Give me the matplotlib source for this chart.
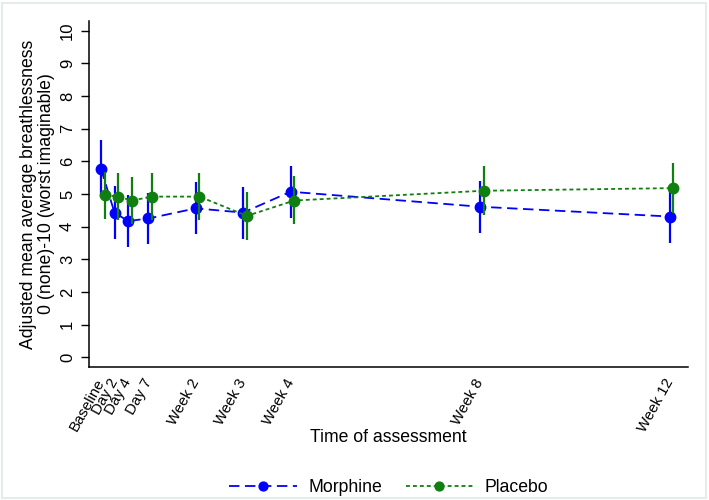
import matplotlib
matplotlib.use("Agg")
import matplotlib.pyplot as plt
from matplotlib.patches import Rectangle

# time points (days since baseline) and their labels
days = [0, 2, 4, 7, 14, 21, 28, 56, 84]
tick_labels = ["Baseline", "Day 2", "Day 4", "Day 7", "Week 2", "Week 3",
               "Week 4", "Week 8", "Week 12"]

morphine_mean = [5.77, 4.43, 4.17, 4.25, 4.56, 4.43, 5.07, 4.61, 4.31]
morphine_lo = [4.90, 3.62, 3.37, 3.47, 3.76, 3.62, 4.27, 3.81, 3.51]
morphine_hi = [6.64, 5.24, 4.97, 5.03, 5.37, 5.22, 5.86, 5.41, 5.11]

placebo_mean = [4.97, 4.92, 4.80, 4.92, 4.92, 4.33, 4.80, 5.10, 5.18]
placebo_lo = [4.22, 4.20, 4.07, 4.20, 4.20, 3.59, 4.07, 4.36, 4.42]
placebo_hi = [5.67, 5.65, 5.53, 5.65, 5.65, 5.07, 5.55, 5.86, 5.94]

plt.rcParams["font.family"] = ["Liberation Sans", "DejaVu Sans"]
plt.rcParams["lines.scale_dashes"] = False

BLUE = "#0000ff"
GREEN = "#0f7f0f"

fig = plt.figure(figsize=(7.09, 5.0), dpi=100)
ax = fig.add_axes([89 / 709, 1 - 367 / 500, (688 - 89) / 709, (367 - 21) / 500])

offset = 0.55  # placebo points are nudged right


def series(x, mean, lo, hi, color, dashes, label):
    yerr = [[m - l for m, l in zip(mean, lo)], [h - m for m, h in zip(mean, hi)]]
    ax.errorbar(x, mean, yerr=yerr, fmt="none", ecolor=color, elinewidth=1.6,
                capsize=0)
    line, = ax.plot(x, mean, color=color, lw=1.3, marker="o", ms=7.5,
                    mec=color, mfc=color, label=label)
    line.set_dashes(dashes)
    return line


series(days, morphine_mean, morphine_lo, morphine_hi, BLUE, (7.5, 4), "Morphine")
series([d + offset for d in days], placebo_mean, placebo_lo, placebo_hi, GREEN,
       (2.8, 2.2), "Placebo")

ax.set_xlim(-1.77, 86.7)
ax.set_ylim(-0.3, 10.3)
ax.set_yticks(range(0, 11))
ax.set_xticks(days)
ax.set_xticklabels(tick_labels, rotation=61, ha="right", va="center",
                   rotation_mode="anchor", fontsize=10.8)
ax.tick_params(axis="x", length=0, pad=9)
ax.tick_params(axis="y", length=6, width=1, labelsize=12, pad=4)
for lab in ax.get_yticklabels():
    lab.set_rotation(90)
    lab.set_va("center")

for s in ["top", "right"]:
    ax.spines[s].set_visible(False)
for s in ["left", "bottom"]:
    ax.spines[s].set_linewidth(1.1)

ax.set_ylabel("Adjusted mean average breathlessness\n0 (none)-10 (worst imaginable)",
              fontsize=12.7, linespacing=1.05, labelpad=4)
fig.text(388 / 709, 1 - 438 / 500, "Time of assessment", fontsize=12.7,
         ha="center", va="center")

handles, labels = ax.get_legend_handles_labels()
fig.legend(handles, labels, loc="center", bbox_to_anchor=(389 / 709, 1 - 488 / 500),
           ncol=2, frameon=False, fontsize=12.7, handlelength=3.8,
           handletextpad=0.7, columnspacing=1.3, numpoints=1, markerscale=0.85)

fig.patches.append(Rectangle((2 / 709, 2 / 500), 704 / 709, 495 / 500,
                             transform=fig.transFigure, fill=False,
                             edgecolor="#e6ebeb", lw=1.5))

fig.savefig("out.png", dpi=100, facecolor="white")
